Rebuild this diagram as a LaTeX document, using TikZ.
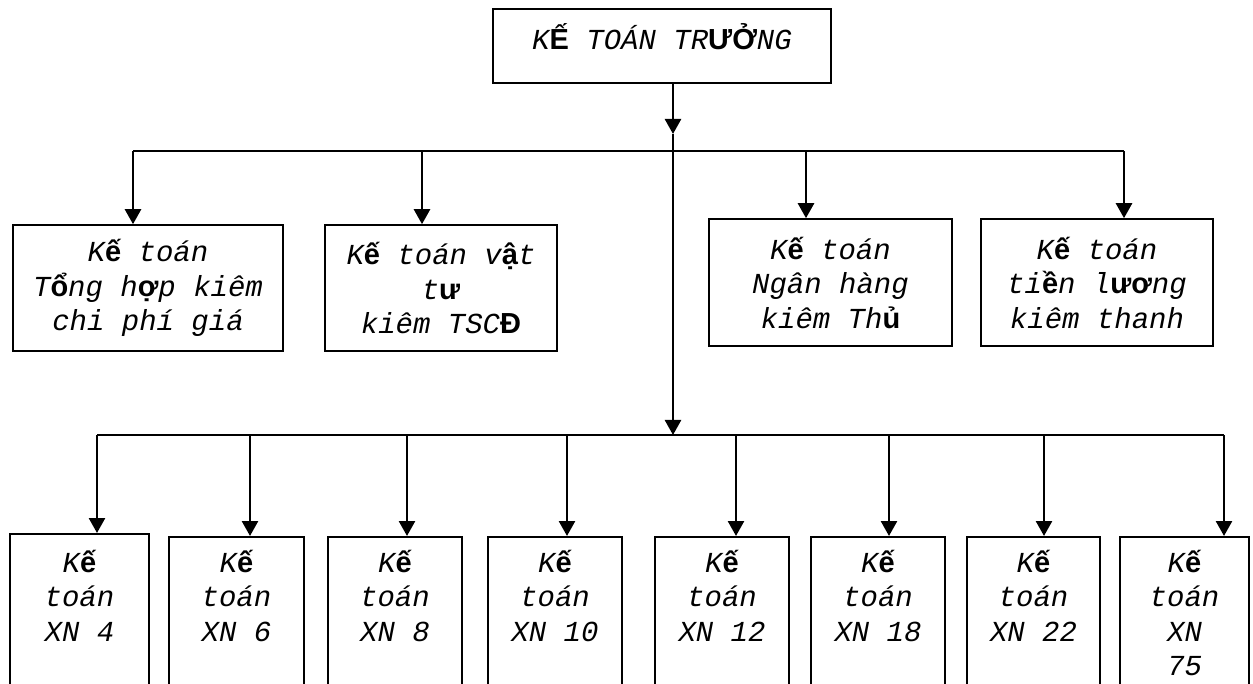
\documentclass[tikz,border=0pt]{standalone}
\usepackage{fontspec}
\setmainfont{Liberation Mono}
\newfontfamily\vnfont{Liberation Sans}
\usetikzlibrary{arrows.meta}
\tikzset{>={Triangle[length=15pt,width=16pt]}}
\tikzstyle{box}=[draw,line width=1.6pt,inner sep=0pt]
\tikzstyle{txt}=[align=center,inner sep=0pt,font=\fontsize{29}{34.5}\selectfont\itshape]
\tikzstyle{arr}=[->,line width=2.6pt]
\tikzstyle{bus}=[line width=1.6pt]
\def\vn#1{{\vnfont\bfseries\upshape #1}}

\begin{document}
\begin{tikzpicture}[x=1pt,y=-1pt]
  \useasboundingbox (0,0) rectangle (1253,684);
  \clip (0,0) rectangle (1253,684);

  % CHIEF
  \node[box,txt,minimum width=338pt,minimum height=74pt,text height=26pt,text depth=18pt]
    (top) at (662,46) {K\vn{Ế} TOÁN TR\vn{ƯỞ}NG};
  \coordinate (j1) at (673,134);
  \coordinate (j2) at (673,435);
  \draw[arr] (top.south -| j1) -- (j1);
  \draw[arr] (j1) -- (j2);

  % OFFICE ROW
  \foreach \n/\l/\r/\t/\b/\a/\txt in {
      th/13/283/225/351/133/{K\vn{ế} toán\\T\vn{ổ}ng h\vn{ợ}p kiêm\\chi phí giá},
      vt/325/557/225/351/422/{K\vn{ế} toán v\vn{ậ}t\\t\vn{ư}\\kiêm TSC\vn{Đ}},
      nh/709/952/219/346/806/{K\vn{ế} toán\\Ngân hàng\\kiêm Th\vn{ủ}},
      tl/981/1213/219/346/1124/{K\vn{ế} toán\\ti\vn{ề}n l\vn{ươ}ng\\kiêm thanh}}{
    \node[box,txt,minimum width=\r pt-\l pt,minimum height=\b pt-\t pt]
      (\n) at ({(\l+\r)/2},{(\t+\b)/2}) {\txt};
    \coordinate (a\n) at (\a,151);
    \draw[arr] (a\n) -- (a\n |- \n.north);
  }
  \draw[bus] (ath) -- (atl);

  % ENTERPRISE ROW
  \foreach \n/\l/\r/\t/\a/\txt in {
      4/10/149/533/97/{K\vn{ế}\\toán\\XN 4},
      6/169/304/536/250/{K\vn{ế}\\toán\\XN 6},
      8/328/462/536/407/{K\vn{ế}\\toán\\XN 8},
      10/488/622/536/567/{K\vn{ế}\\toán\\XN 10},
      12/655/789/536/736/{K\vn{ế}\\toán\\XN 12},
      18/811/945/536/889/{K\vn{ế}\\toán\\XN 18},
      22/967/1100/536/1044/{K\vn{ế}\\toán\\XN 22},
      75/1120/1249/536/1224/{K\vn{ế}\\toán\\XN\\75}}{
    \node[box,minimum width=\r pt-\l pt,minimum height=200pt,anchor=north]
      (xn\n) at ({(\l+\r)/2},\t) {};
    \node[txt,anchor=north] (xt\n) at ([yshift=-17pt]xn4.north -| xn\n.north) {\txt};
    \coordinate (a\n) at (\a,435);
    \draw[arr] (a\n) -- (a\n |- xn\n.north);
  }
  \draw[bus] (a4) -- (a75);
\end{tikzpicture}
\end{document}
